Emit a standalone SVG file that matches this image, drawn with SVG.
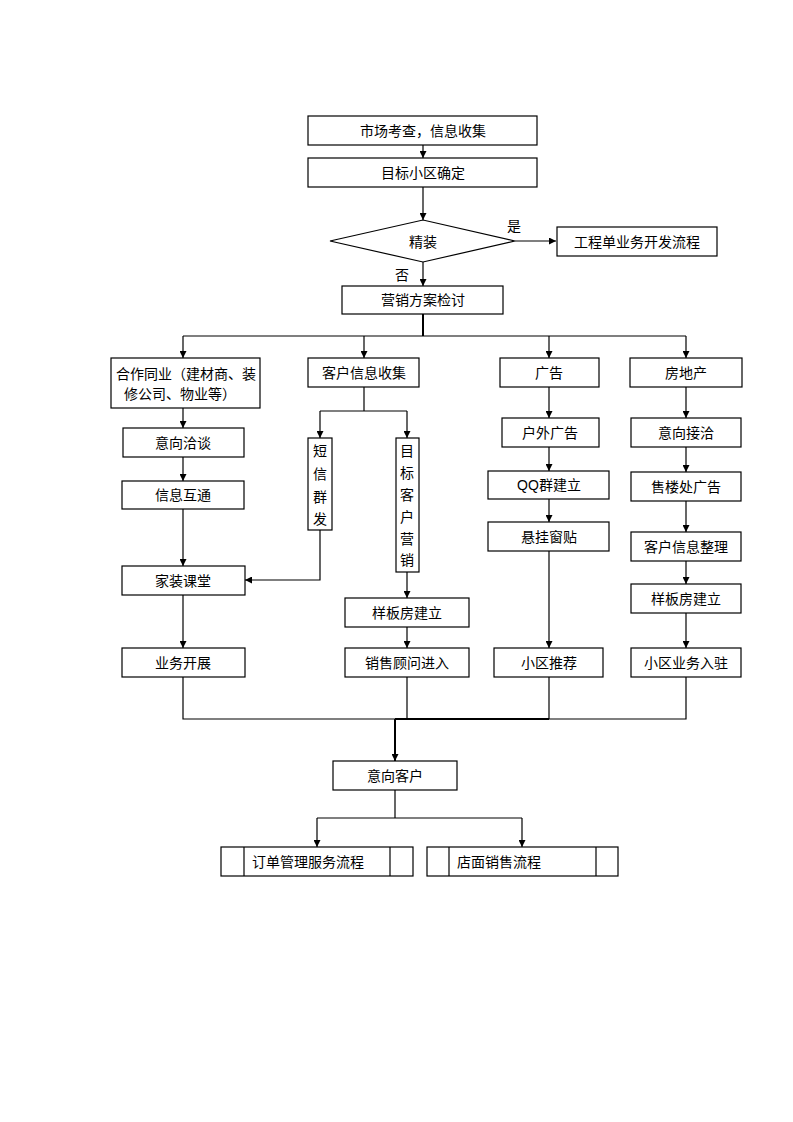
<svg xmlns="http://www.w3.org/2000/svg" width="793" height="1122" viewBox="0 0 793 1122">
<style>
.b{fill:#fff;stroke:#000;stroke-width:1.2}
.t{font-family:"Liberation Serif","Noto Sans CJK SC",serif;font-size:14px;fill:#000;text-anchor:middle;dominant-baseline:central}
.c line,.c polyline{stroke:#000;stroke-width:1.2;fill:none}
.c .k{stroke-width:2}
</style>
<defs>
<marker id="a" viewBox="0 0 10 10" refX="10" refY="5" markerWidth="7" markerHeight="7" markerUnits="userSpaceOnUse" orient="auto"><path d="M0,0L10,5L0,10z" fill="#000"/></marker>
</defs>
<rect width="793" height="1122" fill="#fff"/>
<g class="c" id="connectors">
<line x1="423" y1="145" x2="423" y2="158" marker-end="url(#a)"/>
<line x1="423" y1="187" x2="423" y2="220" marker-end="url(#a)"/>
<line x1="515" y1="241" x2="556" y2="241" marker-end="url(#a)"/>
<line x1="423" y1="262" x2="423" y2="286" marker-end="url(#a)"/>
<line class="k" x1="423" y1="314" x2="423" y2="336"/>
<line x1="183" y1="336" x2="686" y2="336"/>
<line x1="183" y1="336" x2="183" y2="358" marker-end="url(#a)"/>
<line x1="364" y1="336" x2="364" y2="358" marker-end="url(#a)"/>
<line x1="549" y1="336" x2="549" y2="358" marker-end="url(#a)"/>
<line x1="686" y1="336" x2="686" y2="358" marker-end="url(#a)"/>
<line x1="183" y1="408" x2="183" y2="428" marker-end="url(#a)"/>
<line x1="183" y1="457" x2="183" y2="481" marker-end="url(#a)"/>
<line x1="183" y1="509" x2="183" y2="566" marker-end="url(#a)"/>
<line x1="183" y1="595" x2="183" y2="648" marker-end="url(#a)"/>
<line x1="364" y1="387" x2="364" y2="411"/>
<line x1="320" y1="411" x2="407" y2="411"/>
<line x1="320" y1="411" x2="320" y2="438" marker-end="url(#a)"/>
<line x1="407" y1="411" x2="407" y2="438" marker-end="url(#a)"/>
<polyline points="320,530 320,580 245,580" marker-end="url(#a)"/>
<line x1="407" y1="572" x2="407" y2="598" marker-end="url(#a)"/>
<line x1="407" y1="627" x2="407" y2="648" marker-end="url(#a)"/>
<line x1="549" y1="387" x2="549" y2="418" marker-end="url(#a)"/>
<line x1="549" y1="447" x2="549" y2="471" marker-end="url(#a)"/>
<line x1="549" y1="499" x2="549" y2="522" marker-end="url(#a)"/>
<line x1="549" y1="551" x2="549" y2="648" marker-end="url(#a)"/>
<line x1="686" y1="387" x2="686" y2="418" marker-end="url(#a)"/>
<line x1="686" y1="447" x2="686" y2="472" marker-end="url(#a)"/>
<line x1="686" y1="501" x2="686" y2="532" marker-end="url(#a)"/>
<line x1="686" y1="561" x2="686" y2="584" marker-end="url(#a)"/>
<line x1="686" y1="613" x2="686" y2="648" marker-end="url(#a)"/>
<polyline points="183,677 183,719 686,719 686,677"/>
<line x1="407" y1="677" x2="407" y2="719"/>
<line x1="549" y1="677" x2="549" y2="719"/>
<line class="k" x1="395" y1="719" x2="549" y2="719"/>
<line class="k" x1="395" y1="719" x2="395" y2="761" marker-end="url(#a)"/>
<line x1="395" y1="790" x2="395" y2="818"/>
<line x1="317" y1="818" x2="522" y2="818"/>
<line x1="317" y1="818" x2="317" y2="847" marker-end="url(#a)"/>
<line x1="522" y1="818" x2="522" y2="847" marker-end="url(#a)"/>
</g>
<g id="n1"><rect class="b" x="308" y="116" width="229" height="29"/><text class="t" x="423" y="131">市场考查，信息收集</text></g>
<g id="n2"><rect class="b" x="308" y="158" width="229" height="29"/><text class="t" x="423" y="173">目标小区确定</text></g>
<g id="n3"><polygon class="b" points="330,241 423,220 515,241 423,262"/><text class="t" x="423" y="242">精装</text></g>
<g id="l1"><text class="t" x="514" y="226">是</text></g>
<g id="l2"><text class="t" x="402" y="275">否</text></g>
<g id="n4"><rect class="b" x="557" y="227" width="160" height="29"/><text class="t" x="637" y="242">工程单业务开发流程</text></g>
<g id="n5"><rect class="b" x="342" y="286" width="161" height="28"/><text class="t" x="423" y="300">营销方案检讨</text></g>
<g id="n6"><rect class="b" x="111" y="358" width="149" height="50"/><text class="t" x="186" y="374">合作同业（建材商、装</text><text class="t" x="180" y="394">修公司、物业等）</text></g>
<g id="n7"><rect class="b" x="308" y="358" width="111" height="29"/><text class="t" x="364" y="373">客户信息收集</text></g>
<g id="n8"><rect class="b" x="500" y="358" width="99" height="29"/><text class="t" x="549" y="373">广告</text></g>
<g id="n9"><rect class="b" x="630" y="358" width="112" height="29"/><text class="t" x="686" y="373">房地产</text></g>
<g id="n10"><rect class="b" x="123" y="428" width="121" height="29"/><text class="t" x="183" y="443">意向洽谈</text></g>
<g id="n11"><rect class="b" x="122" y="481" width="122" height="28"/><text class="t" x="183" y="495">信息互通</text></g>
<g id="n12"><rect class="b" x="122" y="566" width="123" height="29"/><text class="t" x="183" y="581">家装课堂</text></g>
<g id="n13"><rect class="b" x="122" y="648" width="123" height="29"/><text class="t" x="183" y="663">业务开展</text></g>
<g id="n14"><rect class="b" x="308" y="438" width="24" height="92"/><text class="t" x="320" y="451">短</text><text class="t" x="320" y="474">信</text><text class="t" x="320" y="497">群</text><text class="t" x="320" y="519">发</text></g>
<g id="n15"><rect class="b" x="396" y="438" width="23" height="134"/><text class="t" x="407" y="451">目</text><text class="t" x="407" y="473">标</text><text class="t" x="407" y="495">客</text><text class="t" x="407" y="517">户</text><text class="t" x="407" y="539">营</text><text class="t" x="407" y="560">销</text></g>
<g id="n16"><rect class="b" x="345" y="598" width="124" height="29"/><text class="t" x="407" y="613">样板房建立</text></g>
<g id="n17"><rect class="b" x="345" y="648" width="124" height="29"/><text class="t" x="407" y="663">销售顾问进入</text></g>
<g id="n18"><rect class="b" x="502" y="418" width="97" height="29"/><text class="t" x="550" y="433">户外广告</text></g>
<g id="n19"><rect class="b" x="488" y="471" width="121" height="28"/><text class="t" x="549" y="485"><tspan font-family="Liberation Sans">QQ</tspan>群建立</text></g>
<g id="n20"><rect class="b" x="488" y="522" width="121" height="29"/><text class="t" x="549" y="537">悬挂窗贴</text></g>
<g id="n21"><rect class="b" x="494" y="648" width="109" height="29"/><text class="t" x="549" y="663">小区推荐</text></g>
<g id="n22"><rect class="b" x="631" y="418" width="110" height="29"/><text class="t" x="686" y="433">意向接洽</text></g>
<g id="n23"><rect class="b" x="631" y="472" width="110" height="29"/><text class="t" x="686" y="487">售楼处广告</text></g>
<g id="n24"><rect class="b" x="631" y="532" width="110" height="29"/><text class="t" x="686" y="547">客户信息整理</text></g>
<g id="n25"><rect class="b" x="631" y="584" width="110" height="29"/><text class="t" x="686" y="599">样板房建立</text></g>
<g id="n26"><rect class="b" x="631" y="648" width="110" height="29"/><text class="t" x="686" y="663">小区业务入驻</text></g>
<g id="n27"><rect class="b" x="333" y="761" width="124" height="29"/><text class="t" x="395" y="776">意向客户</text></g>
<g id="n28"><rect class="b" x="221" y="847" width="192" height="29"/><line x1="244" y1="847" x2="244" y2="876" stroke="#000" stroke-width="1.2"/><line x1="390" y1="847" x2="390" y2="876" stroke="#000" stroke-width="1.2"/><text class="t" x="308" y="862">订单管理服务流程</text></g>
<g id="n29"><rect class="b" x="427" y="847" width="191" height="29"/><line x1="449" y1="847" x2="449" y2="876" stroke="#000" stroke-width="1.2"/><line x1="596" y1="847" x2="596" y2="876" stroke="#000" stroke-width="1.2"/><text class="t" x="499" y="862">店面销售流程</text></g>
</svg>
